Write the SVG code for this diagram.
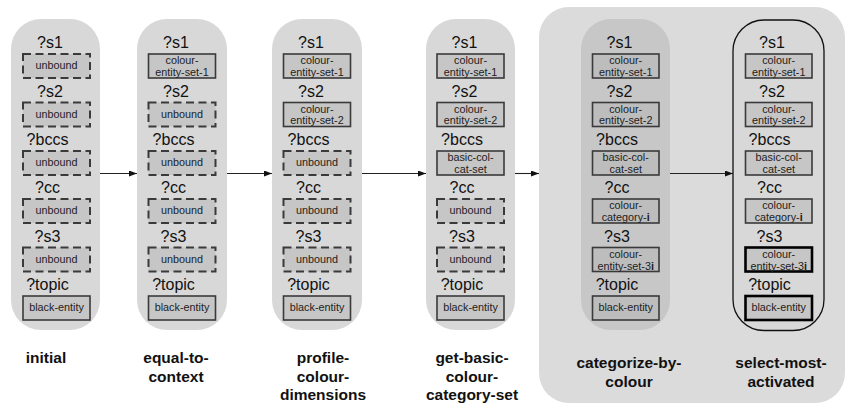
<svg xmlns="http://www.w3.org/2000/svg" width="846" height="405" viewBox="0 0 846 405">
<defs>
<style>
.cap{fill:#d8d8d8;stroke:none}
.cap5{fill:#c7c7c7;stroke:none}
.cap6{fill:#d8d8d8;stroke:#111;stroke-width:1.3}
.bg{fill:#dbdbdb;stroke:none}
.box{fill:#c6c6c6;stroke:#3a3a3a;stroke-width:1.6}
.box5{fill:#bdbdbd;stroke:#3a3a3a;stroke-width:1.6}
.boxb{fill:#c6c6c6;stroke:#000;stroke-width:2.6}
.dash{fill:#c6c6c6;stroke:#3a3a3a;stroke-width:2;stroke-dasharray:8 4.5}
.var{font-family:"Liberation Sans",Arial,sans-serif;font-size:16px;fill:#111;text-anchor:middle}
.val{font-family:"Liberation Sans",Arial,sans-serif;font-size:10.8px;fill:#222;text-anchor:middle}
.lbl{font-family:"Liberation Sans",Arial,sans-serif;font-size:15.5px;font-weight:bold;fill:#111;text-anchor:middle}
.conn{stroke:#222;stroke-width:1.1;fill:none}
</style>
<marker id="ah" viewBox="0 0 8 6" refX="8" refY="3" markerWidth="8" markerHeight="6" markerUnits="userSpaceOnUse" orient="auto">
<path d="M0,0 L8,3 L0,6 z" fill="#111"/>
</marker>
</defs>

<rect class="bg" x="539" y="7" width="306" height="396" rx="30" ry="30"/>

<g id="connectors">
<line class="conn" x1="100" y1="173.5" x2="137" y2="173.5" marker-end="url(#ah)"/>
<line class="conn" x1="227" y1="173.5" x2="272" y2="173.5" marker-end="url(#ah)"/>
<line class="conn" x1="362" y1="173.5" x2="426" y2="173.5" marker-end="url(#ah)"/>
<line class="conn" x1="515" y1="173.5" x2="539" y2="173.5" marker-end="url(#ah)"/>
<line class="conn" x1="670" y1="173.5" x2="733" y2="173.5" marker-end="url(#ah)"/>
</g>

<g id="initial">
<rect class="cap" x="11" y="19" width="89" height="311" rx="30" ry="30"/>
<text class="var" x="50" y="48">?s1</text>
<rect class="dash" x="23" y="54" width="67" height="24"/>
<text class="val" x="56.5" y="69.3">unbound</text>
<text class="var" x="50" y="96.5">?s2</text>
<rect class="dash" x="23" y="102.5" width="67" height="24"/>
<text class="val" x="56.5" y="117.8">unbound</text>
<text class="var" x="47.5" y="145">?bccs</text>
<rect class="dash" x="23" y="151" width="67" height="24"/>
<text class="val" x="56.5" y="166.3">unbound</text>
<text class="var" x="47.5" y="193">?cc</text>
<rect class="dash" x="23" y="199" width="67" height="24"/>
<text class="val" x="56.5" y="214.3">unbound</text>
<text class="var" x="47.5" y="241.5">?s3</text>
<rect class="dash" x="23" y="247.5" width="67" height="24"/>
<text class="val" x="56.5" y="262.8">unbound</text>
<text class="var" x="47.5" y="290">?topic</text>
<rect class="box" x="23" y="296" width="67" height="24"/>
<text class="val" x="56.5" y="311.3">black-entity</text>
<text class="lbl" x="46" y="362.7">initial</text>
</g>

<g id="equal-to-context">
<rect class="cap" x="137" y="19" width="90" height="311" rx="30" ry="30"/>
<text class="var" x="176" y="48">?s1</text>
<rect class="box" x="148.5" y="54" width="67" height="24"/>
<text class="val" x="182" y="64.3">colour-</text>
<text class="val" x="182" y="75.7">entity-set-1</text>
<text class="var" x="176" y="96.5">?s2</text>
<rect class="dash" x="148.5" y="102.5" width="67" height="24"/>
<text class="val" x="182" y="117.8">unbound</text>
<text class="var" x="173.5" y="145">?bccs</text>
<rect class="dash" x="148.5" y="151" width="67" height="24"/>
<text class="val" x="182" y="166.3">unbound</text>
<text class="var" x="173.5" y="193">?cc</text>
<rect class="dash" x="148.5" y="199" width="67" height="24"/>
<text class="val" x="182" y="214.3">unbound</text>
<text class="var" x="173.5" y="241.5">?s3</text>
<rect class="dash" x="148.5" y="247.5" width="67" height="24"/>
<text class="val" x="182" y="262.8">unbound</text>
<text class="var" x="173.5" y="290">?topic</text>
<rect class="box" x="148.5" y="296" width="67" height="24"/>
<text class="val" x="182" y="311.3">black-entity</text>
<text class="lbl" x="176" y="363">equal-to-</text>
<text class="lbl" x="176" y="381.5">context</text>
</g>

<g id="profile-colour-dimensions">
<rect class="cap" x="272" y="19" width="90" height="311" rx="30" ry="30"/>
<text class="var" x="311" y="48">?s1</text>
<rect class="box" x="283.5" y="54" width="67" height="24"/>
<text class="val" x="317" y="64.3">colour-</text>
<text class="val" x="317" y="75.7">entity-set-1</text>
<text class="var" x="311" y="96.5">?s2</text>
<rect class="box" x="283.5" y="102.5" width="67" height="24"/>
<text class="val" x="317" y="112.8">colour-</text>
<text class="val" x="317" y="124.2">entity-set-2</text>
<text class="var" x="308.5" y="145">?bccs</text>
<rect class="dash" x="283.5" y="151" width="67" height="24"/>
<text class="val" x="317" y="166.3">unbound</text>
<text class="var" x="308.5" y="193">?cc</text>
<rect class="dash" x="283.5" y="199" width="67" height="24"/>
<text class="val" x="317" y="214.3">unbound</text>
<text class="var" x="308.5" y="241.5">?s3</text>
<rect class="dash" x="283.5" y="247.5" width="67" height="24"/>
<text class="val" x="317" y="262.8">unbound</text>
<text class="var" x="308.5" y="290">?topic</text>
<rect class="box" x="283.5" y="296" width="67" height="24"/>
<text class="val" x="317" y="311.3">black-entity</text>
<text class="lbl" x="323" y="363">profile-</text>
<text class="lbl" x="323" y="381.5">colour-</text>
<text class="lbl" x="323" y="400">dimensions</text>
</g>

<g id="get-basic-colour-category-set">
<rect class="cap" x="426" y="19" width="89" height="311" rx="30" ry="30"/>
<text class="var" x="464.5" y="48">?s1</text>
<rect class="box" x="437" y="54" width="67" height="24"/>
<text class="val" x="470.5" y="64.3">colour-</text>
<text class="val" x="470.5" y="75.7">entity-set-1</text>
<text class="var" x="464.5" y="96.5">?s2</text>
<rect class="box" x="437" y="102.5" width="67" height="24"/>
<text class="val" x="470.5" y="112.8">colour-</text>
<text class="val" x="470.5" y="124.2">entity-set-2</text>
<text class="var" x="462" y="145">?bccs</text>
<rect class="box" x="437" y="151" width="67" height="24"/>
<text class="val" x="470.5" y="161.3">basic-col-</text>
<text class="val" x="470.5" y="172.7">cat-set</text>
<text class="var" x="462" y="193">?cc</text>
<rect class="dash" x="437" y="199" width="67" height="24"/>
<text class="val" x="470.5" y="214.3">unbound</text>
<text class="var" x="462" y="241.5">?s3</text>
<rect class="dash" x="437" y="247.5" width="67" height="24"/>
<text class="val" x="470.5" y="262.8">unbound</text>
<text class="var" x="462" y="290">?topic</text>
<rect class="box" x="437" y="296" width="67" height="24"/>
<text class="val" x="470.5" y="311.3">black-entity</text>
<text class="lbl" x="472" y="363">get-basic-</text>
<text class="lbl" x="472" y="381.5">colour-</text>
<text class="lbl" x="472" y="400">category-set</text>
</g>

<g id="categorize-by-colour">
<rect class="cap5" x="581" y="19" width="89" height="311" rx="30" ry="30"/>
<text class="var" x="619.5" y="48">?s1</text>
<rect class="box5" x="592.5" y="54" width="66.5" height="24"/>
<text class="val" x="625.7" y="64.3">colour-</text>
<text class="val" x="625.7" y="75.7">entity-set-1</text>
<text class="var" x="619.5" y="96.5">?s2</text>
<rect class="box5" x="592.5" y="102.5" width="66.5" height="24"/>
<text class="val" x="625.7" y="112.8">colour-</text>
<text class="val" x="625.7" y="124.2">entity-set-2</text>
<text class="var" x="617" y="145">?bccs</text>
<rect class="box5" x="592.5" y="151" width="66.5" height="24"/>
<text class="val" x="625.7" y="161.3">basic-col-</text>
<text class="val" x="625.7" y="172.7">cat-set</text>
<text class="var" x="617" y="193">?cc</text>
<rect class="box5" x="592.5" y="199" width="66.5" height="24"/>
<text class="val" x="625.7" y="209.3">colour-</text>
<text class="val" x="625.7" y="221.2">category-<tspan font-weight="bold">i</tspan></text>
<text class="var" x="617" y="241.5">?s3</text>
<rect class="box5" x="592.5" y="247.5" width="66.5" height="24"/>
<text class="val" x="625.7" y="257.8">colour-</text>
<text class="val" x="625.7" y="269.7">entity-set-3<tspan font-weight="bold">i</tspan></text>
<text class="var" x="617" y="290">?topic</text>
<rect class="box5" x="592.5" y="296" width="66.5" height="24"/>
<text class="val" x="625.7" y="311.3">black-entity</text>
<text class="lbl" x="629" y="368">categorize-by-</text>
<text class="lbl" x="629" y="386.5">colour</text>
</g>

<g id="select-most-activated">
<rect class="cap6" x="733" y="20" width="91" height="310.5" rx="31" ry="31"/>
<text class="var" x="772" y="48">?s1</text>
<rect class="box" x="745.5" y="54" width="66.5" height="24"/>
<text class="val" x="778.7" y="64.3">colour-</text>
<text class="val" x="778.7" y="75.7">entity-set-1</text>
<text class="var" x="772" y="96.5">?s2</text>
<rect class="box" x="745.5" y="102.5" width="66.5" height="24"/>
<text class="val" x="778.7" y="112.8">colour-</text>
<text class="val" x="778.7" y="124.2">entity-set-2</text>
<text class="var" x="769.5" y="145">?bccs</text>
<rect class="box" x="745.5" y="151" width="66.5" height="24"/>
<text class="val" x="778.7" y="161.3">basic-col-</text>
<text class="val" x="778.7" y="172.7">cat-set</text>
<text class="var" x="769.5" y="193">?cc</text>
<rect class="box" x="745.5" y="199" width="66.5" height="24"/>
<text class="val" x="778.7" y="209.3">colour-</text>
<text class="val" x="778.7" y="221.2">category-<tspan font-weight="bold">i</tspan></text>
<text class="var" x="769.5" y="241.5">?s3</text>
<rect class="boxb" x="745.5" y="247.5" width="66.5" height="24"/>
<text class="val" x="778.7" y="257.8">colour-</text>
<text class="val" x="778.7" y="269.7">entity-set-3<tspan font-weight="bold">i</tspan></text>
<text class="var" x="769.5" y="290">?topic</text>
<rect class="boxb" x="745.5" y="296" width="66.5" height="24"/>
<text class="val" x="778.7" y="311.3">black-entity</text>
<text class="lbl" x="781" y="368">select-most-</text>
<text class="lbl" x="781" y="386.5">activated</text>
</g>
</svg>
